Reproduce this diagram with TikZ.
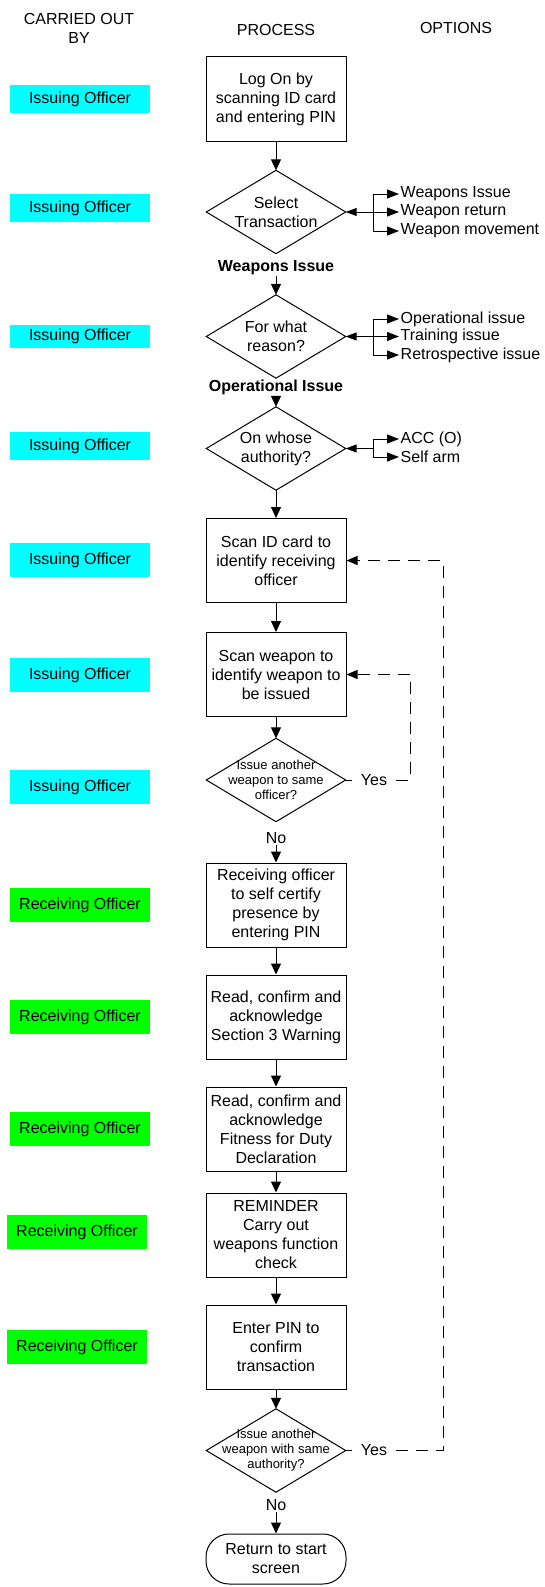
\documentclass[tikz,border=0pt]{standalone}
\usepackage{fontspec}
\setmainfont{Liberation Sans}
\usetikzlibrary{arrows.meta,positioning}
\definecolor{cyanbox}{HTML}{00FFFF}
\definecolor{greenbox}{HTML}{00FF00}
\begin{document}
\begin{tikzpicture}[x=1pt,y=-1pt,
  every node/.style={font=\fontsize{16}{19}\selectfont},
  hdr/.style={align=center, inner sep=0pt},
  procbox/.style={draw, line width=1pt, rectangle, minimum width=140pt, minimum height=84pt, align=center, inner sep=2pt},
  dia/.style={rectangle, minimum width=139pt, minimum height=83pt, align=center, inner sep=0pt},
  smalldia/.style={dia, font=\fontsize{13}{15}\selectfont},
  who/.style={rectangle, minimum width=140pt, align=center, inner sep=0pt},
  issuer/.style={who, fill=cyanbox},
  receiver/.style={who, fill=greenbox},
  lbl/.style={font=\bfseries\fontsize{16}{19}\selectfont, inner sep=1pt},
  plain/.style={inner sep=1pt},
  opt/.style={anchor=west, inner sep=1.5pt},
  yeslbl/.style={minimum width=43pt, inner sep=0pt},
  term/.style={draw, line width=1pt, rectangle, rounded corners=23pt, minimum width=140pt, minimum height=50pt, align=center},
  arr/.style={line width=1pt, -{Triangle[length=11pt,width=10pt]}},
  optarr/.style={line width=1pt, -{Triangle[length=12pt,width=9pt]}},
  backarr/.style={line width=1pt, -{Triangle[length=11pt,width=8pt]}},
  ln/.style={line width=1pt},
  dsh/.style={line width=1pt, dash pattern=on 12pt off 8pt, -{Triangle[length=11pt,width=9pt]}}
]
\useasboundingbox (0,0) rectangle (544,1587);

% headers
\node[hdr] (h1) at (79,28) {CARRIED OUT\\BY};
\node[hdr] (h2) at (276,30) {PROCESS};
\node[hdr] (h3) at (456,28) {OPTIONS};

% who boxes
\node[issuer, minimum height=28pt] (w1) at (80,99) {Issuing Officer};
\node[issuer, minimum height=28pt] (w2) at (80,208) {Issuing Officer};
\node[issuer, minimum height=23pt] (w3) at (80,336.5) {Issuing Officer};
\node[issuer, minimum height=28pt] (w4) at (80,446) {Issuing Officer};
\node[issuer, minimum height=34pt] (w5) at (80,560) {Issuing Officer};
\node[issuer, minimum height=34pt] (w6) at (80,675) {Issuing Officer};
\node[issuer, minimum height=34pt] (w7) at (80,787) {Issuing Officer};
\node[receiver, minimum height=34pt] (r1) at (80,905) {Receiving Officer};
\node[receiver, minimum height=34pt] (r2) at (80,1017) {Receiving Officer};
\node[receiver, minimum height=34pt] (r3) at (80,1129) {Receiving Officer};
\node[receiver, minimum height=34pt] (r4) at (77,1232) {Receiving Officer};
\node[receiver, minimum height=34pt] (r5) at (77,1347) {Receiving Officer};

% process
\node[procbox] (b1) at (276,99) {Log On by\\scanning ID card\\and entering PIN};
\node[dia] (d1) at (276,212) {Select\\Transaction};
\node[lbl] (l1) at (276,268) {Weapons Issue};
\node[dia] (d2) at (276,336.5) {For what\\reason?};
\node[lbl] (l2) at (276,387) {Operational Issue};
\node[dia] (d3) at (276,448.5) {On whose\\authority?};
\node[procbox] (b2) at (276,560.5) {Scan ID card to\\identify receiving\\officer};
\node[procbox] (b3) at (276,674.5) {Scan weapon to\\identify weapon to\\be issued};
\node[smalldia] (d4) at (276,780) {Issue another\\weapon to same\\officer?};
\node[plain] (n4) at (276,838) {No};
\node[procbox] (b4) at (276,905) {Receiving officer\\to self certify\\presence by\\entering PIN};
\node[procbox] (b5) at (276,1017) {Read, confirm and\\acknowledge\\Section 3 Warning};
\node[procbox] (b6) at (276,1129) {Read, confirm and\\acknowledge\\Fitness for Duty\\Declaration};
\node[procbox] (b7) at (276,1235) {REMINDER\\Carry out\\weapons function\\check};
\node[procbox] (b8) at (276,1347) {Enter PIN to\\confirm\\transaction};
\node[smalldia] (d5) at (276,1450.5) {Issue another\\weapon with same\\authority?};
\node[plain] (n5) at (276,1505) {No};
\node[term] (t) at (276,1559) {Return to start\\screen};

% diamond outlines
\foreach \d in {d1,d2,d3,d4,d5}
  \draw[ln] (\d.north) -- (\d.east) -- (\d.south) -- (\d.west) -- cycle;

% main flow
\draw[arr] (b1) -- (d1.north);
\draw[arr] (l1) -- (d2.north);
\draw[arr] (l2) -- (d3.north);
\draw[arr] (d3.south) -- (b2);
\draw[arr] (b2) -- (b3);
\draw[arr] (b3) -- (d4.north);
\draw[arr] (n4) -- (b4);
\draw[arr] (b4) -- (b5);
\draw[arr] (b5) -- (b6);
\draw[arr] (b6) -- (b7);
\draw[arr] (b7) -- (b8);
\draw[arr] (b8) -- (d5.north);
\draw[arr] (n5) -- (t);

% options 1
\coordinate (k1) at (373,212);
\node[opt] (o11) at (399,194) {Weapons Issue};
\node[opt] (o12) at (399,212) {Weapon return};
\node[opt] (o13) at (399,231) {Weapon movement};
\draw[backarr] (k1) -- (d1.east);
\draw[ln] (k1 |- o11) -- (k1 |- o13);
\draw[optarr] (k1 |- o11) -- (o11.west);
\draw[optarr] (k1) -- (o12.west);
\draw[optarr] (k1 |- o13) -- (o13.west);

% options 2
\coordinate (k2) at (373,336.5);
\node[opt] (o21) at (399,319) {Operational issue};
\node[opt] (o22) at (399,336.5) {Training issue};
\node[opt] (o23) at (399,355) {Retrospective issue};
\draw[backarr] (k2) -- (d2.east);
\draw[ln] (k2 |- o21) -- (k2 |- o23);
\draw[optarr] (k2 |- o21) -- (o21.west);
\draw[optarr] (k2) -- (o22.west);
\draw[optarr] (k2 |- o23) -- (o23.west);

% options 3
\coordinate (k3) at (373,448.5);
\node[opt] (o31) at (399,439) {ACC (O)};
\node[opt] (o32) at (399,457) {Self arm};
\draw[backarr] (k3) -- (d3.east);
\draw[ln] (k3 |- o31) -- (k3 |- o32);
\draw[optarr] (k3 |- o31) -- (o31.west);
\draw[optarr] (k3 |- o32) -- (o32.west);

% loops
\node[yeslbl] (y4) at (374,780) {Yes};
\draw[ln] (d4.east) -- (y4.west);
\coordinate (c4) at (410,780);
\draw[dsh] (y4.east) -- (c4) |- (b3.east);

\node[yeslbl] (y5) at (374,1450.5) {Yes};
\draw[ln] (d5.east) -- (y5.west);
\coordinate (c5) at (443,1450.5);
\draw[dsh] (y5.east) -- (c5) |- (b2.east);
\end{tikzpicture}
\end{document}
